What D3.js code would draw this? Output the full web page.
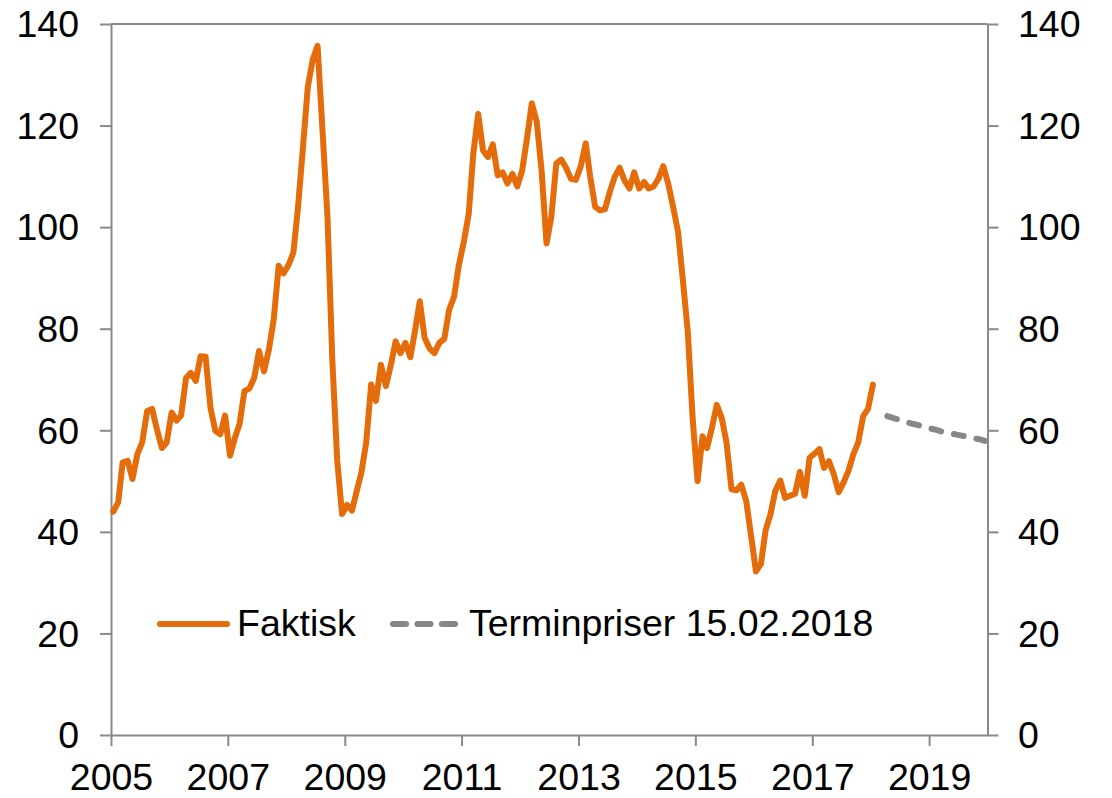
<!DOCTYPE html>
<html>
<head>
<meta charset="utf-8">
<script src="https://cdn.jsdelivr.net/npm/d3@7"></script>
<style>
  body { margin: 0; background: #fff; }
  svg { display: block; }
  text { font-family: "Liberation Sans", Arial, sans-serif; fill: #000; }
</style>
</head>
<body>
<svg id="chart" width="1112" height="798"></svg>
<script>
// ---- Data (monthly) ----
const actualStartYear = 2005;
const actualStartMonth = 0; // January
const actualValues = [
  // 2005
  44.0, 45.8, 53.7, 54.0, 50.4, 55.3, 57.6, 63.8, 64.2, 60.2, 56.5, 57.6,
  // 2006
  63.5, 61.9, 62.9, 70.3, 71.3, 69.7, 74.6, 74.5, 64.4, 59.9, 59.2, 62.9,
  // 2007
  55.0, 58.6, 61.2, 67.7, 68.2, 70.3, 75.6, 71.6, 75.9, 81.8, 92.4, 90.9,
  // 2008
  92.5, 95.0, 104.0, 115.8, 127.6, 133.0, 135.7, 119.0, 102.0, 74.0, 54.0, 43.5,
  // 2009
  45.3, 44.2, 47.8, 51.7, 57.6, 69.0, 65.8, 72.9, 68.7, 72.7, 77.5, 75.2,
  // 2010
  77.2, 74.4, 79.4, 85.4, 78.2, 76.1, 75.2, 77.2, 78.0, 83.7, 86.3, 92.5,
  // 2011
  97.1, 102.7, 114.4, 122.3, 115.1, 113.8, 116.3, 110.2, 110.8, 108.6, 110.5, 108.0,
  // 2012
  111.2, 117.7, 124.4, 120.7, 111.2, 96.8, 102.0, 112.5, 113.3, 111.7, 109.5, 109.3,
  // 2013
  112.0, 116.5, 109.9, 104.0, 103.3, 103.5, 106.9, 109.9, 111.7, 109.2, 107.6, 110.8,
  // 2014
  107.6, 108.9, 107.6, 108.0, 109.5, 112.0, 108.6, 104.0, 99.1, 89.6, 79.4, 62.4,
  // 2015
  50.0, 58.8, 56.5, 60.5, 65.0, 62.4, 57.6, 48.4, 48.2, 49.3, 46.1, 39.3,
  // 2016
  32.2, 33.7, 40.3, 43.5, 48.1, 50.1, 46.7, 47.1, 47.5, 51.8, 47.1, 54.6,
  // 2017
  55.4, 56.3, 52.6, 53.9, 51.4, 47.8, 49.7, 52.0, 55.3, 57.6, 62.8, 64.2,
  // 2018
  69.0
];

const forwardStartYear = 2018;
const forwardStartMonth = 3; // April
const forwardValues = [
  62.8, 62.5, 62.2, 61.9, 61.6, 61.3, 61.1, 60.8, 60.5,
  60.3, 60.1, 59.8, 59.6, 59.4, 59.2, 59.0, 58.8, 58.6, 58.4, 58.2, 57.9
];

const xTickYears = [2005, 2007, 2009, 2011, 2013, 2015, 2017, 2019];
const yTickValues = [0, 20, 40, 60, 80, 100, 120, 140];
const legendLabels = ["Faktisk", "Terminpriser 15.02.2018"];

const actualColor = "#E46C0A";
const forwardColor = "#878787";
const axisColor = "#898989";

(function () {
  // ---- Build series ----
  const toSeries = (y0, m0, vals) =>
    vals.map((v, i) => ({ date: new Date(y0, m0 + i, 15), v }));
  const actual = toSeries(actualStartYear, actualStartMonth, actualValues);
  const forward = toSeries(forwardStartYear, forwardStartMonth, forwardValues);

  // ---- Scales ----
  const plotLeft = 111, plotRight = 987.5, plotTop = 24, plotBottom = 735;
  const x = d3.scaleTime()
    .domain([new Date(2005, 0, 1), new Date(2020, 0, 1)])
    .range([plotLeft, plotRight]);
  const y = d3.scaleLinear().domain([0, 140]).range([plotBottom, plotTop]);

  const svg = d3.select("#chart");
  const fontSize = 37.5;

  // top border
  svg.append("line")
    .attr("x1", plotLeft).attr("x2", plotRight)
    .attr("y1", plotTop).attr("y2", plotTop)
    .attr("stroke", axisColor).attr("stroke-width", 2);

  const gL = svg.append("g")
    .attr("transform", `translate(${plotLeft},0)`)
    .attr("color", axisColor)
    .call(d3.axisLeft(y).tickValues(yTickValues).tickSize(11).tickSizeOuter(0).tickPadding(21));
  const gR = svg.append("g")
    .attr("transform", `translate(${plotRight},0)`)
    .attr("color", axisColor)
    .call(d3.axisRight(y).tickValues(yTickValues).tickSize(11).tickSizeOuter(0).tickPadding(19.5));
  const gB = svg.append("g")
    .attr("transform", `translate(0,${plotBottom})`)
    .attr("color", axisColor)
    .call(d3.axisBottom(x)
      .tickValues(xTickYears.map(yr => new Date(yr, 0, 1)))
      .tickFormat(d3.timeFormat("%Y"))
      .tickSize(11).tickSizeOuter(0).tickPadding(17.2));

  [gL, gR, gB].forEach(g => {
    g.selectAll("path.domain").attr("stroke-width", 2);
    g.selectAll(".tick line").attr("stroke-width", 2);
    g.selectAll("text")
      .attr("fill", "#000")
      .style("font-size", fontSize + "px")
      .style("font-family", '"Liberation Sans", Arial, sans-serif');
  });
  gL.selectAll("text").attr("dy", "0.34em");
  gR.selectAll("text").attr("dy", "0.34em");

  // ---- Lines ----
  const line = d3.line().x(d => x(d.date)).y(d => y(d.v));

  svg.append("path")
    .datum(forward)
    .attr("d", line)
    .attr("fill", "none")
    .attr("stroke", forwardColor)
    .attr("stroke-width", 6)
    .attr("stroke-linecap", "round")
    .attr("stroke-dasharray", "10,13");

  svg.append("path")
    .datum(actual)
    .attr("d", line)
    .attr("fill", "none")
    .attr("stroke", actualColor)
    .attr("stroke-width", 6)
    .attr("stroke-linejoin", "round")
    .attr("stroke-linecap", "round");

  // ---- Legend ----
  const legY = 624, legBase = 635.5;
  svg.append("line")
    .attr("x1", 160).attr("x2", 227).attr("y1", legY).attr("y2", legY)
    .attr("stroke", actualColor).attr("stroke-width", 6).attr("stroke-linecap", "round");
  svg.append("text").attr("x", 237).attr("y", legBase)
    .style("font-size", fontSize + "px").text(legendLabels[0]);

  svg.append("line")
    .attr("x1", 393).attr("x2", 460).attr("y1", legY).attr("y2", legY)
    .attr("stroke", forwardColor).attr("stroke-width", 6).attr("stroke-linecap", "round")
    .attr("stroke-dasharray", "13,11.5");
  svg.append("text").attr("x", 469).attr("y", legBase)
    .style("font-size", fontSize + "px").text(legendLabels[1]);
})();
</script>
</body>
</html>
